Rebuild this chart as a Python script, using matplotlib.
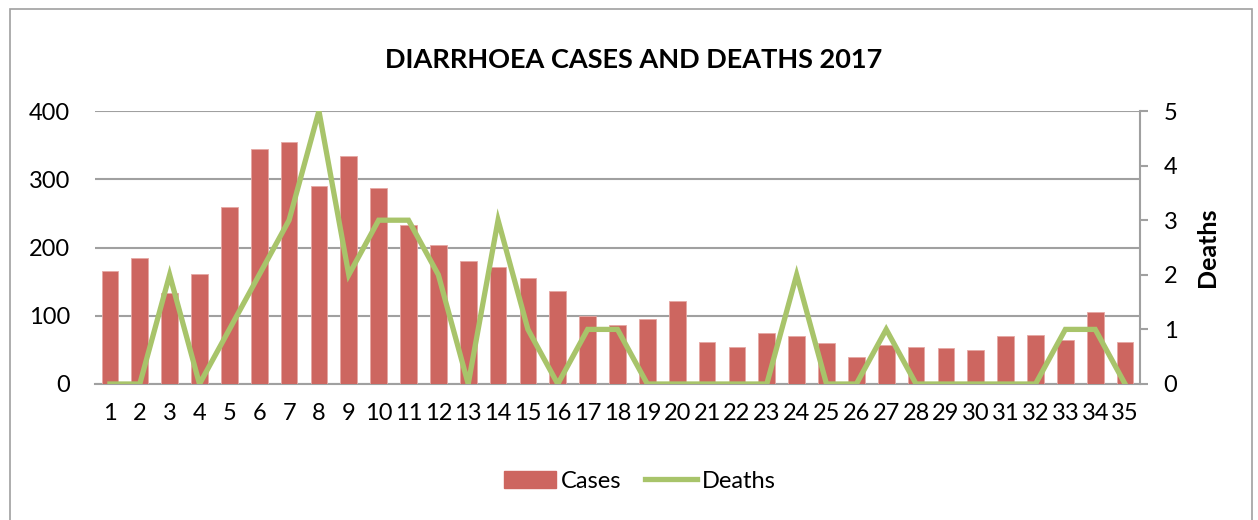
import matplotlib
matplotlib.use("Agg")
import matplotlib.pyplot as plt
from matplotlib.patches import Rectangle, Patch
from matplotlib.lines import Line2D

weeks = list(range(1, 36))
cases = [166, 185, 134, 161, 259, 345, 355, 290, 334, 287, 233, 203, 180, 171, 156,
         136, 99, 86, 95, 122, 62, 54, 74, 70, 60, 40, 57, 54, 53, 50, 70, 72, 64, 105, 62]
deaths = [0, 0, 2, 0, 1, 2, 3, 5, 2, 3, 3, 2, 0, 3, 1, 0, 1, 1, 0, 0, 0, 0, 0, 2,
          0, 0, 1, 0, 0, 0, 0, 0, 1, 1, 0]
left_ticks = [0, 100, 200, 300, 400]
right_ticks = [0, 1, 2, 3, 4, 5]

plt.rcParams['font.family'] = ['Lato', 'DejaVu Sans']
bar_color = '#CD6660'
line_color = '#A8C46A'
grid_color = '#A0A0A0'
FS = 17

W, H = 1258, 520
fig = plt.figure(figsize=(W / 100, H / 100), dpi=100)
fig.patch.set_facecolor('white')

# outer chart border
fig.add_artist(Rectangle((10 / W, -0.02), (1252 - 10) / W, 1 - 9 / H + 0.02,
                         transform=fig.transFigure, fill=False,
                         edgecolor='#A0A0A0', linewidth=1.2))

ax = fig.add_axes([95 / W, 1 - 384 / H, (1140 - 95) / W, (384 - 111) / H])
ax.bar(weeks, cases, width=0.56, color=bar_color, edgecolor='#E6A8A4',
       linewidth=0.6, zorder=3)
ax.set_xlim(0.5, 35.5)
ax.set_ylim(0, 400)
ax.set_yticks(left_ticks)
ax.set_xticks(weeks)
ax.set_xticklabels([str(w) for w in weeks])
ax.grid(axis='y', color=grid_color, linewidth=1.5, zorder=0)
for s in ['top', 'left', 'right']:
    ax.spines[s].set_visible(False)
ax.spines['bottom'].set_color(grid_color)
ax.spines['bottom'].set_linewidth(1.5)
ax.tick_params(axis='y', length=0, pad=18, labelsize=FS)
ax.tick_params(axis='x', length=0, pad=14, labelsize=FS)

ax2 = ax.twinx()
ax2.plot(weeks, deaths, color=line_color, linewidth=3.8, zorder=4,
         solid_joinstyle='miter')
ax2.set_ylim(0, 5)
ax2.set_yticks(right_ticks)
for s in ['top', 'left', 'bottom']:
    ax2.spines[s].set_visible(False)
ax2.spines['right'].set_color(grid_color)
ax2.spines['right'].set_linewidth(1.5)
ax2.tick_params(axis='y', direction='out', length=6, width=1.5, color=grid_color,
                pad=11, labelsize=FS)
ax2.set_ylabel('Deaths', fontsize=18, fontweight='bold')
ax2.yaxis.set_label_coords((1196 - 95) / 1045, 0.5)

fig.text(634 / W, 1 - 60 / H, 'DIARRHOEA CASES AND DEATHS 2017',
         ha='center', va='center', fontsize=19.5, fontweight='bold')

handles = [Patch(facecolor=bar_color, edgecolor=bar_color),
           Line2D([0], [0], color=line_color, linewidth=3.8)]
fig.legend(handles, ['Cases', 'Deaths'], loc='center', ncol=2,
           bbox_to_anchor=(640 / W, 1 - 481 / H), frameon=False,
           fontsize=FS, handlelength=2.2, handletextpad=0.2, columnspacing=1.0)

fig.savefig('out.png', dpi=100)
